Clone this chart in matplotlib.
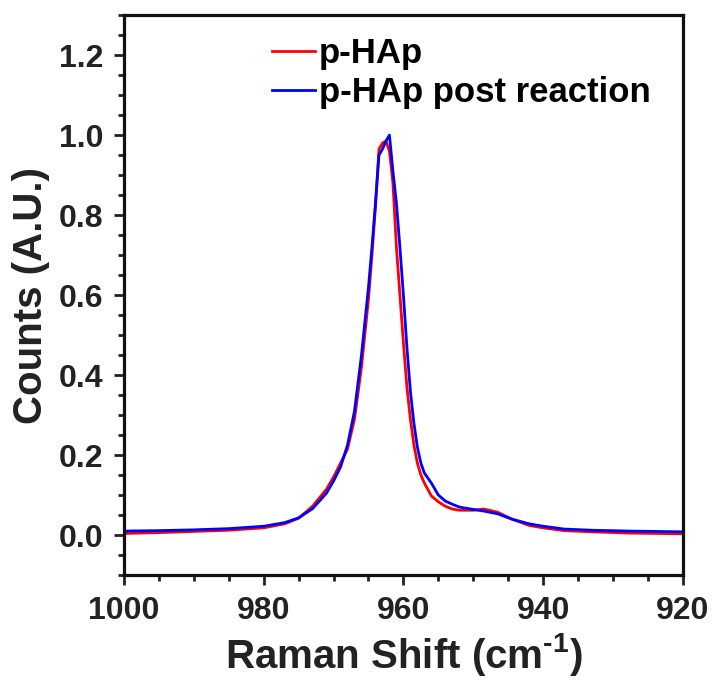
import numpy as np
import matplotlib
matplotlib.use('Agg')
import matplotlib.pyplot as plt
from matplotlib.ticker import MultipleLocator

plt.rcParams['font.family'] = ['Liberation Sans', 'DejaVu Sans']
plt.rcParams['font.weight'] = 'bold'
plt.rcParams['mathtext.fontset'] = 'custom'
plt.rcParams['mathtext.rm'] = 'Liberation Sans:bold'
plt.rcParams['mathtext.bf'] = 'Liberation Sans:bold'

# Raman shift (cm-1), shared by both spectra
shift = [1000, 995, 990, 985, 980, 977, 975, 973, 971, 970, 969, 968, 967, 966, 965,
         964.5, 964, 963.5, 963, 962.5, 962, 961.5, 961, 960.5, 960, 959.5, 959, 958.5,
         958, 957.5, 957, 956, 955, 954, 953, 952, 950, 948.5, 946.5, 944.5, 942, 940,
         937, 933, 928, 924, 920]

# p-HAp
hap = [0.004, 0.006, 0.009, 0.012, 0.018, 0.028, 0.042, 0.072, 0.115, 0.145, 0.180, 0.215,
       0.29, 0.42, 0.59, 0.70, 0.82, 0.965, 0.98, 0.985, 0.96, 0.88, 0.72, 0.60, 0.48, 0.37,
       0.29, 0.225, 0.18, 0.15, 0.13, 0.098, 0.083, 0.072, 0.065, 0.062, 0.062, 0.065, 0.057,
       0.040, 0.024, 0.018, 0.011, 0.008, 0.005, 0.004, 0.003]

# p-HAp post reaction
hap_post = [0.010, 0.011, 0.013, 0.016, 0.022, 0.031, 0.043, 0.066, 0.105, 0.135, 0.17, 0.225,
            0.31, 0.45, 0.62, 0.72, 0.83, 0.95, 0.965, 0.985, 1.0, 0.91, 0.83, 0.72, 0.60, 0.47,
            0.36, 0.28, 0.22, 0.18, 0.155, 0.13, 0.10, 0.085, 0.077, 0.070, 0.064, 0.060, 0.053,
            0.040, 0.028, 0.022, 0.015, 0.012, 0.010, 0.009, 0.008]

fig = plt.figure(figsize=(7.15, 6.88), dpi=100)
ax = fig.add_axes([0.1734, 0.1642, 0.955 - 0.1734, 0.978 - 0.1642])

ax.plot(shift, hap, color='#ff0000', lw=2.0, label='p-HAp')
ax.plot(shift, hap_post, color='#0000ff', lw=2.0, label='p-HAp post reaction')

ax.set_xlim(1000, 920)
ax.set_ylim(-0.1, 1.3)
ax.xaxis.set_major_locator(MultipleLocator(20))
ax.xaxis.set_minor_locator(MultipleLocator(5))
ax.yaxis.set_minor_locator(MultipleLocator(0.05))
ax.set_yticks(np.arange(0, 1.21, 0.2))
ax.set_yticklabels(['%.1f' % v for v in np.arange(0, 1.21, 0.2)])

for s in ax.spines.values():
    s.set_linewidth(2.3)
    s.set_color('#111111')
ax.tick_params(which='both', direction='out', top=False, right=False,
               width=2, color='#222222', labelsize=23, labelcolor='#222222')
ax.tick_params(which='major', length=7, pad=8)
ax.tick_params(which='minor', length=4.5)

ax.set_xlabel(r'Raman Shift (cm$^{\text{-1}}$)', fontsize=29, fontweight='bold',
              color='#222222', labelpad=4)
ax.set_ylabel('Counts (A.U.)', fontsize=29, fontweight='bold', color='#222222', labelpad=6)

ax.legend(loc='upper left', bbox_to_anchor=(0.246, 0.979), frameon=False, fontsize=25,
          handlelength=1.25, handletextpad=0.1, labelspacing=0.16, borderpad=0.3,
          borderaxespad=0)

fig.savefig('out.png', dpi=100)
